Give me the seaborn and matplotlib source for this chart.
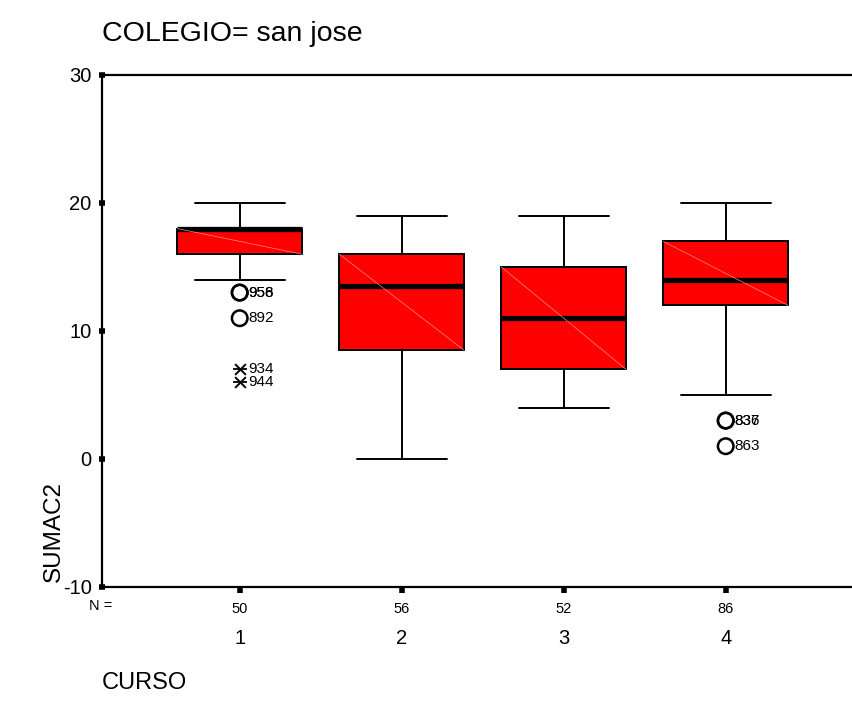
import matplotlib
matplotlib.use('Agg')
import matplotlib.pyplot as plt
import matplotlib.transforms as mtransforms
import seaborn as sns
import pandas as pd

# ---- data ----
categories = [1, 2, 3, 4]
n_counts = [50, 56, 52, 86]
whisker_low = [14, 0, 4, 5]
q1 = [16, 8.5, 7, 12]
median = [18, 13.5, 11, 14]
q3 = [18, 16, 15, 17]
whisker_high = [20, 19, 19, 20]

outlier_curso = [1, 1, 1, 4, 4, 4]
outlier_value = [13, 13, 11, 3, 3, 1]
outlier_label = ["958", "956", "892", "837", "836", "863"]

extreme_curso = [1, 1]
extreme_value = [7, 6]
extreme_label = ["934", "944"]

sns.set_style("white")
plt.rcParams['font.family'] = ['Liberation Sans', 'DejaVu Sans']
plt.rcParams['text.color'] = 'black'
plt.rcParams['xtick.color'] = 'black'
plt.rcParams['ytick.color'] = 'black'

W, H = 852, 716
fig = plt.figure(figsize=(W / 100, H / 100), dpi=100)
ax = fig.add_axes([102 / W, 1 - 587 / H, 761.4 / W, (587 - 75) / H])

stats = []
for i in range(len(categories)):
    stats.append(dict(med=median[i], q1=q1[i], q3=q3[i],
                      whislo=whisker_low[i], whishi=whisker_high[i], fliers=[]))

bw = 0.77
ax.bxp(stats, positions=categories, widths=bw, capwidths=0.555,
       patch_artist=True, showfliers=False,
       boxprops=dict(facecolor='#ff0000', edgecolor='black', linewidth=1.4),
       medianprops=dict(color='black', linewidth=3.8, solid_capstyle='butt'),
       whiskerprops=dict(color='black', linewidth=1.4),
       capprops=dict(color='black', linewidth=1.4))

# faint diagonal inside boxes (SPSS gradient artifact)
for i, c in enumerate(categories):
    ax.plot([c - bw / 2, c + bw / 2], [q3[i], q1[i]], color='#ff8a8a',
            linewidth=0.5, zorder=3)

out_df = pd.DataFrame({'CURSO': outlier_curso, 'SUMAC2': outlier_value})
sns.scatterplot(data=out_df, x='CURSO', y='SUMAC2', ax=ax, marker='o', s=125,
                facecolor='none', edgecolor='black', linewidth=1.8, zorder=4)
ext_df = pd.DataFrame({'CURSO': extreme_curso, 'SUMAC2': extreme_value})
sns.scatterplot(data=ext_df, x='CURSO', y='SUMAC2', ax=ax, marker='x',
                s=60, color='black', edgecolor='black', linewidth=1.4, zorder=4)
sns.scatterplot(data=ext_df, x='CURSO', y='SUMAC2', ax=ax, marker='_',
                s=90, color='black', edgecolor='black', linewidth=1.3, zorder=4)

for c, v, lab in zip(outlier_curso + extreme_curso,
                     outlier_value + extreme_value,
                     outlier_label + extreme_label):
    ax.annotate(lab, (c, v), xytext=(6.5, 0), textcoords='offset points',
                ha='left', va='center', fontsize=11, color='black', zorder=5)

ax.set_xlim(0.15, 4.85)
ax.set_ylim(-10, 30)
ax.set_xlabel('')
ax.set_ylabel('')

for s in ['left', 'top', 'bottom']:
    ax.spines[s].set_visible(True)
    ax.spines[s].set_color('black')
    ax.spines[s].set_linewidth(1.6)
ax.spines['right'].set_visible(False)

ax.set_yticks([-10, 0, 10, 20, 30])
ax.set_yticklabels(['-10', '0', '10', '20', '30'], fontsize=14.5)
ax.tick_params(axis='y', direction='inout', length=5, width=4, pad=5, left=True)
ax.set_xticks(categories)
ax.set_xticklabels([str(n) for n in n_counts], fontsize=10.5)
ax.tick_params(axis='x', direction='out', length=4, width=4, pad=7, bottom=True)

fig.text(101 / W, 1 - 606 / H, 'N =', ha='center', va='center', fontsize=10.5)
cat_tr = mtransforms.blended_transform_factory(ax.transData, fig.transFigure)
for c in categories:
    ax.text(c, 1 - 639 / H, str(c), transform=cat_tr,
            ha='center', va='center', fontsize=14.5)

fig.text(102 / W, 1 - 34 / H, 'COLEGIO= san jose', ha='left', va='center',
         fontsize=20.5)
fig.text(102 / W, 1 - 683 / H, 'CURSO', ha='left', va='center', fontsize=17)
fig.text(54 / W, 1 - 531 / H, 'SUMAC2', ha='center', va='center',
         rotation=90, fontsize=17.5)

fig.savefig('out.png', dpi=100)
